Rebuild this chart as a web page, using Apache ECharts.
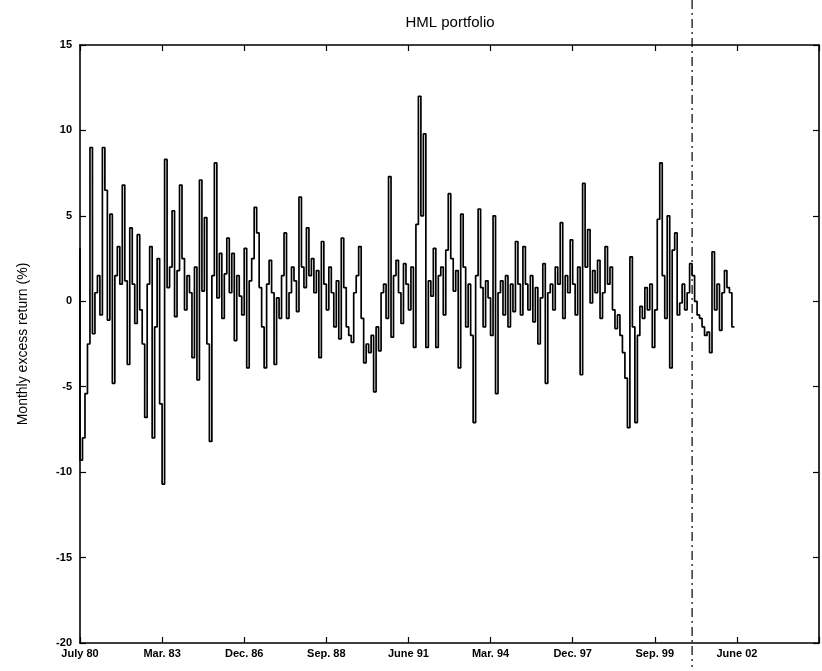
<!DOCTYPE html>
<html><head><meta charset="utf-8">
<script src="https://cdn.jsdelivr.net/npm/echarts@6/dist/echarts.min.js"></script>
<style>html,body{margin:0;padding:0;background:#fff}#c{width:822px;height:671px}</style>
</head><body><div id="c"></div>
<script>
// Month index 0 = July 1980, one value per month
const tickLabels = ['July 80','Mar. 83','Dec. 86','Sep. 88','June 91','Mar. 94','Dec. 97','Sep. 99','June 02'];
const tickStep = 33;
const axisMaxMonth = 297;
const outOfSampleStart = 246;
const hmlReturns = [
 3.1,-9.3,-8.0,-5.4,-2.5,9.0,-1.9,0.5,1.5,-0.8,9.0,6.5,
 -1.1,5.1,-4.8,1.5,3.2,1.0,6.8,1.2,-3.7,4.3,1.0,-1.3,
 3.9,-0.5,-2.5,-6.8,1.0,3.2,-8.0,-1.5,2.5,-6.0,-10.7,8.3,
 0.8,2.0,5.3,-0.9,1.8,6.8,2.5,-0.5,1.5,0.5,-3.3,2.0,
 -4.6,7.1,0.6,4.9,-2.5,-8.2,1.5,8.1,0.2,2.8,-1.0,1.6,
 3.7,0.5,2.8,-2.3,1.5,0.3,-0.8,3.1,-3.9,1.2,2.5,5.5,
 4.0,0.8,-1.5,-3.9,1.0,2.4,0.5,-3.7,0.2,-1.0,1.5,4.0,
 -1.0,0.5,2.0,1.2,-0.6,6.1,2.0,0.8,4.3,1.5,2.5,0.5,
 1.8,-3.3,3.5,1.0,-0.5,2.0,0.5,-1.5,1.2,-2.2,3.7,0.8,
 -1.5,-2.0,-2.4,0.5,1.5,3.2,-1.0,-3.6,-2.5,-3.0,-2.0,-5.3,
 -1.5,-2.9,0.5,1.0,-1.0,7.3,-2.1,1.5,2.4,0.5,-1.3,2.2,
 1.0,-0.5,2.0,-2.7,4.5,12.0,5.0,9.8,-2.7,1.2,0.3,3.1,
 -2.7,1.5,2.0,-0.8,3.0,6.3,2.5,0.6,1.8,-3.9,5.1,2.0,
 -1.5,1.0,-2.0,-7.1,1.5,5.4,0.8,-1.5,1.2,0.2,-2.0,5.0,
 -5.4,0.5,1.2,-0.8,1.5,-1.5,1.0,-0.6,3.5,1.0,-0.8,3.2,
 1.0,-0.5,1.5,-1.2,0.8,-2.5,0.2,2.2,-4.8,0.5,1.0,-0.5,
 2.0,1.0,4.6,-1.0,1.5,0.5,3.6,1.0,-0.8,2.0,-4.3,6.9,
 2.0,4.2,-0.1,1.8,0.5,2.4,-1.0,0.5,3.2,1.0,2.0,-0.5,
 -1.6,-0.8,-2.0,-3.0,-4.5,-7.4,2.6,-1.5,-7.1,-2.0,-0.3,-1.0,
 0.8,-0.5,1.0,-2.7,-0.5,4.8,8.1,1.5,-1.0,5.0,-3.9,3.0,
 4.0,-0.8,-0.1,1.0,-0.5,0.5,2.2,1.5,0.0,-0.8,-1.0,-1.5,
 -2.0,-1.8,-3.0,2.9,-0.5,1.0,-1.7,0.5,1.8,0.8,0.5,-1.5
];

const seriesData = hmlReturns.map((v, i) => [i, v]);
const chart = echarts.init(document.getElementById('c'), null, {renderer: 'canvas'});
const lblFont = {fontFamily: 'Liberation Sans, Arial, sans-serif', fontSize: 11, fontWeight: 'bold', color: '#000'};
const axLine = {show: true, onZero: false, lineStyle: {color: '#000', width: 1.6}};
const inTick = {show: true, inside: true, length: 6, lineStyle: {color: '#000', width: 1.2}};
chart.setOption({
  animation: false,
  backgroundColor: '#fff',
  title: {text: 'HML portfolio', left: 445, top: 10, textAlign: 'center',
    textStyle: {fontFamily: 'Liberation Sans, Arial, sans-serif', fontSize: 15, fontWeight: 'normal', color: '#000'}},
  grid: {left: 80, right: 2, top: 45, bottom: 28, containLabel: false},
  xAxis: [
    {type: 'value', min: 0, max: axisMaxMonth, interval: tickStep, position: 'bottom',
     axisLine: axLine, axisTick: inTick, splitLine: {show: false},
     axisLabel: Object.assign({margin: 5, formatter: v => tickLabels[Math.round(v / tickStep)] || ''}, lblFont)},
    {type: 'value', min: 0, max: axisMaxMonth, interval: tickStep, position: 'top',
     axisLine: axLine, axisTick: inTick, splitLine: {show: false}, axisLabel: {show: false}}
  ],
  yAxis: [
    {type: 'value', min: -20, max: 15, interval: 5, position: 'left',
     name: 'Monthly excess return (%)', nameLocation: 'middle', nameGap: 50, nameRotate: 90,
     nameTextStyle: {fontFamily: 'Liberation Sans, Arial, sans-serif', fontSize: 14, color: '#000'},
     axisLine: axLine, axisTick: inTick, splitLine: {show: false},
     axisLabel: Object.assign({margin: 8}, lblFont)},
    {type: 'value', min: -20, max: 15, interval: 5, position: 'right',
     axisLine: axLine, axisTick: inTick, splitLine: {show: false}, axisLabel: {show: false}}
  ],
  series: [{
    type: 'line', data: seriesData, step: 'start', showSymbol: false, symbol: 'none',
    lineStyle: {color: '#000', width: 1.7}, xAxisIndex: 0, yAxisIndex: 0
  }]
});
const px = chart.convertToPixel({xAxisIndex: 0}, outOfSampleStart);
chart.setOption({graphic: [{type: 'line', shape: {x1: px, y1: 0, x2: px, y2: 667},
  style: {stroke: '#000', lineWidth: 1.2, lineDash: [9, 4, 2, 4]}}]});
</script></body></html>
